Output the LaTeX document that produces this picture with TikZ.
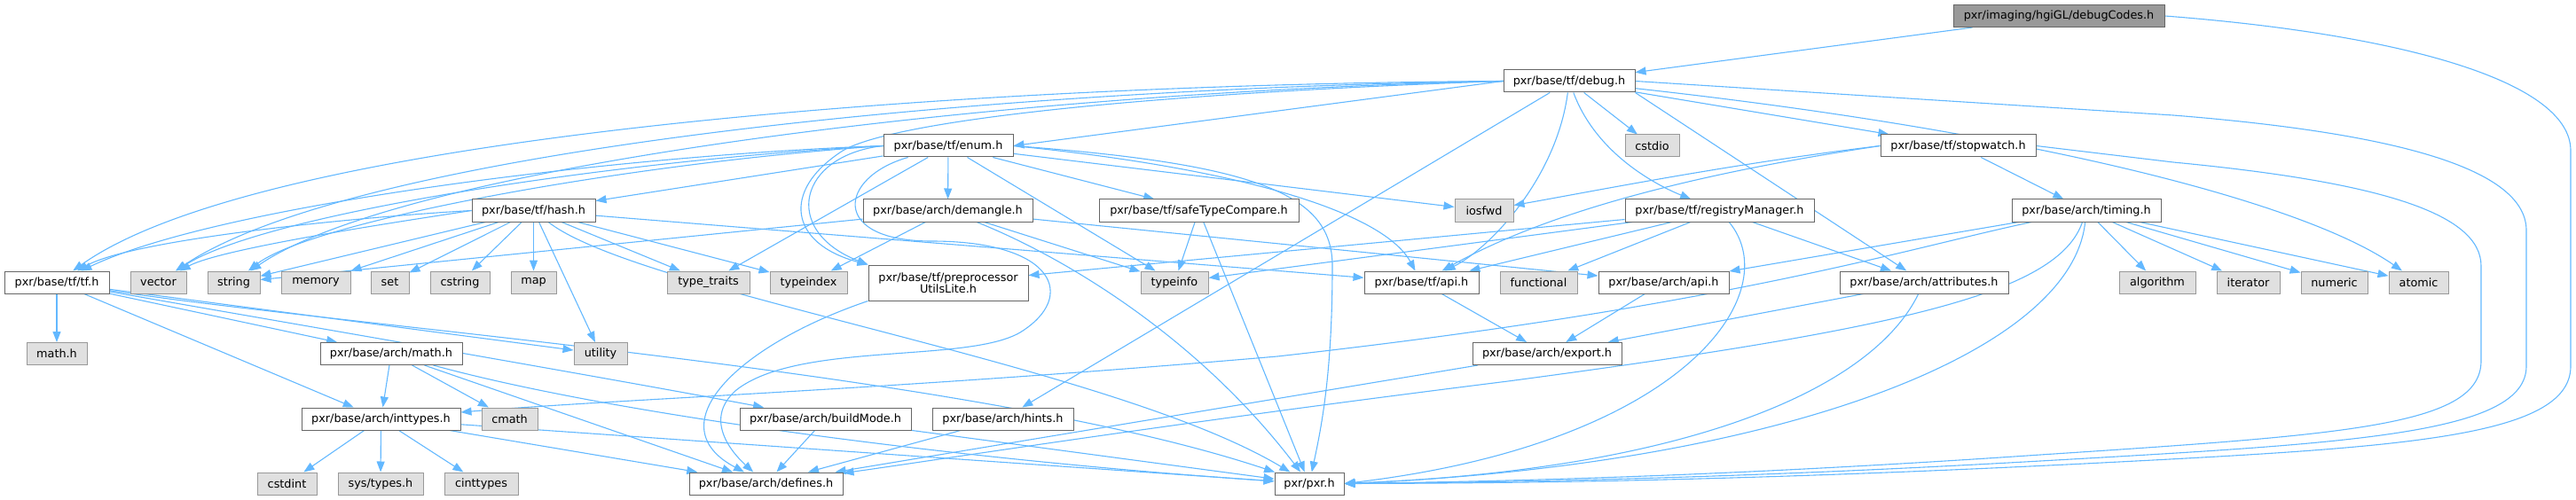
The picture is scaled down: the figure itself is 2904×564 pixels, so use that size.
\documentclass[tikz,border=0pt]{standalone}
\usepackage{fontspec}
\setmainfont{DejaVu Sans}
\usetikzlibrary{arrows.meta}
\definecolor{edgec}{HTML}{63B8FF}
\definecolor{bdark}{HTML}{666666}
\definecolor{blight}{HTML}{999999}
\definecolor{fext}{HTML}{E0E0E0}
\definecolor{froot}{HTML}{999999}
\newcommand\nodefont{\fontsize{12.8pt}{15pt}\selectfont}
\pgfdeclarelayer{bg}
\pgfsetlayers{bg,main}
\tikzset{
  nb/.style={draw=bdark, fill=white, line width=1pt, minimum height=25pt, inner sep=0pt, font=\nodefont, text=black},
  ext/.style={nb, draw=blight, fill=fext},
  rootn/.style={nb, draw=bdark, fill=froot},
  e/.style={draw=edgec, line width=1.1pt, -{Triangle[length=12pt,width=9pt]}}
}
\begin{document}
\begin{tikzpicture}[x=1pt,y=-1pt]
\useasboundingbox (0,0) rectangle (2904,564);
% nodes
\node[rootn, minimum width=238pt] (root) at (2321,18) {pxr/imaging/hgiGL/debugCodes.h};
\node[nb, minimum width=148pt] (debug) at (1769,91.5) {pxr/base/tf/debug.h};
\node[nb, minimum width=146pt] (enum) at (1069,164.5) {pxr/base/tf/enum.h};
\node[ext, minimum width=61pt] (cstdio) at (1862.5,164.5) {cstdio};
\node[nb, minimum width=175pt] (stopw) at (2207.5,164.5) {pxr/base/tf/stopwatch.h};
\node[nb, minimum width=139pt] (hash) at (601.5,237.5) {pxr/base/tf/hash.h};
\node[nb, minimum width=191pt] (demangle) at (1068.5,237.5) {pxr/base/arch/demangle.h};
\node[nb, minimum width=225pt] (safe) at (1351.5,237.5) {pxr/base/tf/safeTypeCompare.h};
\node[ext, minimum width=66pt] (iosfwd) at (1673,237.5) {iosfwd};
\node[nb, minimum width=213pt] (regm) at (1938.5,237.5) {pxr/base/tf/registryManager.h};
\node[nb, minimum width=168pt] (timing) at (2352,237.5) {pxr/base/arch/timing.h};
\node[nb, minimum width=118pt] (tf) at (64,318.5) {pxr/base/tf/tf.h};
\node[ext, minimum width=63pt] (vector) at (178.5,318.5) {vector};
\node[ext, minimum width=59pt] (string) at (263.5,318.5) {string};
\node[ext, minimum width=78pt] (memory) at (356,318.5) {memory};
\node[ext, minimum width=43pt] (set) at (439.5,318.5) {set};
\node[ext, minimum width=67pt] (cstring) at (518.5,318.5) {cstring};
\node[ext, minimum width=51pt] (map) at (601.5,318.5) {map};
\node[ext, minimum width=93pt] (typetraits) at (798.5,318.5) {type\_traits};
\node[ext, minimum width=87pt] (typeindex) at (911.5,318.5) {typeindex};
\node[nb, minimum width=180pt, minimum height=40pt, align=center] (prep) at (1069,319) {pxr/base/tf/preprocessor\\[-2pt]UtilsLite.h};
\node[ext, minimum width=76pt] (typeinfo) at (1324,318.5) {typeinfo};
\node[nb, minimum width=129pt] (tfapi) at (1602.5,318.5) {pxr/base/tf/api.h};
\node[ext, minimum width=87pt] (functional) at (1734.5,318.5) {functional};
\node[nb, minimum width=147pt] (archapi) at (1875.5,318.5) {pxr/base/arch/api.h};
\node[nb, minimum width=190pt] (attrs) at (2169,318.5) {pxr/base/arch/attributes.h};
\node[ext, minimum width=86pt] (algorithm) at (2432,318.5) {algorithm};
\node[ext, minimum width=71pt] (iterator) at (2534.5,318.5) {iterator};
\node[ext, minimum width=75pt] (numeric) at (2631.5,318.5) {numeric};
\node[ext, minimum width=67pt] (atomic) at (2726.5,318.5) {atomic};
\node[ext, minimum width=68pt] (mathh) at (64,399) {math.h};
\node[nb, minimum width=160pt] (archmath) at (441,399) {pxr/base/arch/math.h};
\node[ext, minimum width=60pt] (utility) at (677,399) {utility};
\node[nb, minimum width=168pt] (export) at (1744,399) {pxr/base/arch/export.h};
\node[nb, minimum width=179pt] (inttypes) at (429.5,472.5) {pxr/base/arch/inttypes.h};
\node[ext, minimum width=63pt] (cmath) at (574.5,472.5) {cmath};
\node[nb, minimum width=193pt] (buildmode) at (930.5,472.5) {pxr/base/arch/buildMode.h};
\node[nb, minimum width=159pt] (hints) at (1130.5,472.5) {pxr/base/arch/hints.h};
\node[ext, minimum width=67pt] (cstdint) at (323.5,545.5) {cstdint};
\node[ext, minimum width=96pt] (systypes) at (429,545.5) {sys/types.h};
\node[ext, minimum width=83pt] (cinttypes) at (542.5,545.5) {cinttypes};
\node[nb, minimum width=173pt] (defines) at (863.5,545.5) {pxr/base/arch/defines.h};
\node[nb, minimum width=78pt] (pxr) at (1476,545.5) {pxr/pxr.h};
% edges
\begin{pgfonlayer}{bg}
% debugCodes.h
\draw[e] (root) -- (debug);
\draw[e] (root.east) .. controls (2700,38) and (2898,90) .. (2898,170) -- (2898,413) .. controls (2898,495) and (2700,505) .. (2350,523) .. controls (1950,543) and (1700,545) .. (pxr.east);
% debug.h
\draw[e] (debug.east) -- (2450,130) .. controls (2700,150) and (2848,190) .. (2848,260) -- (2848,413) .. controls (2848,490) and (2650,500) .. (2300,520) .. controls (1950,540) and (1700,544) .. (pxr.east);
\draw[e] (debug.west) -- (enum.east);
\draw[e] (debug.west) .. controls (1100,95) and (300,150) .. (tf);
\draw[e] (debug.west) .. controls (1100,100) and (400,170) .. (vector);
\draw[e] (debug.west) .. controls (1100,105) and (450,190) .. (string);
\draw[e] (debug.west) .. controls (1300,105) and (1010,135) .. (950,170) .. controls (880,215) and (890,275) .. (prep.north west);
\draw[e] (debug) .. controls (1755,200) and (1680,280) .. (tfapi);
\draw[e] (debug) .. controls (1800,175) and (1870,210) .. (regm);
\draw[e] (debug) -- (stopw);
\draw[e] (debug.south east) -- (attrs);
\draw[e] (debug) -- (hints);
\draw[e] (debug) .. controls (2300,150) and (2600,230) .. (atomic);
\draw[e] (debug) -- (cstdio);
% enum.h
\draw[e] (enum) -- (hash);
\draw[e] (enum) -- (demangle);
\draw[e] (enum) -- (safe);
\draw[e] (enum.west) .. controls (700,175) and (250,230) .. (tf);
\draw[e] (enum.west) .. controls (700,180) and (300,240) .. (vector);
\draw[e] (enum.west) .. controls (700,185) and (350,250) .. (string);
\draw[e] (enum.east) .. controls (1400,190) and (1560,240) .. (tfapi);
\draw[e] (enum.west) .. controls (900,175) and (880,260) .. (prep.north west);
\draw[e] (enum) .. controls (945,200) and (935,272) .. (1050,272) .. controls (1190,272) and (1215,335) .. (1150,375) .. controls (1090,410) and (900,385) .. (830,440) .. controls (790,475) and (830,515) .. (defines);
\draw[e] (enum.east) .. controls (1420,185) and (1502,220) .. (1502,300) .. controls (1502,420) and (1490,480) .. (pxr);
\draw[e] (enum) -- (iosfwd);
\draw[e] (enum) -- (typetraits);
\draw[e] (enum) -- (typeinfo);
% hash.h
\draw[e] (hash.west) .. controls (400,245) and (150,270) .. (tf);
\draw[e] (hash) -- (tfapi);
\draw[e] (hash) .. controls (720,330) and (1250,410) .. (pxr);
\draw[e] (hash) -- (cstring);
\draw[e] (hash) -- (string);
\draw[e] (hash) -- (map);
\draw[e] (hash) -- (memory);
\draw[e] (hash) -- (set);
\draw[e] (hash) -- (typeindex);
\draw[e] (hash) -- (typetraits);
\draw[e] (hash) -- (utility);
\draw[e] (hash.west) .. controls (450,250) and (250,280) .. (vector);
% demangle.h
\draw[e] (demangle) .. controls (1200,290) and (1350,380) .. (pxr);
\draw[e] (demangle) -- (archapi);
\draw[e] (demangle) -- (string);
\draw[e] (demangle) -- (typeinfo);
\draw[e] (demangle) -- (typeindex);
% safeTypeCompare.h
\draw[e] (safe) -- (pxr);
\draw[e] (safe) -- (typeinfo);
% tf.h
\draw[e] (tf) .. controls (400,370) and (1100,420) .. (pxr);
\draw[e] (tf) .. controls (300,360) and (650,420) .. (buildmode);
\draw[e] (tf) -- (archmath);
\draw[e] (tf) -- (inttypes);
\draw[e] (tf) -- (mathh);
\draw[e] (tf) -- (utility);
% arch/math.h
\draw[e] (archmath) .. controls (700,470) and (1100,520) .. (pxr);
\draw[e] (archmath) -- (defines);
\draw[e] (archmath) -- (inttypes);
\draw[e] (archmath) -- (cmath);
% inttypes.h
\draw[e] (inttypes) -- (defines);
\draw[e] (inttypes) -- (pxr);
\draw[e] (inttypes) -- (cinttypes);
\draw[e] (inttypes) -- (cstdint);
\draw[e] (inttypes) -- (systypes);
% others
\draw[e] (buildmode) -- (defines);
\draw[e] (buildmode) -- (pxr);
\draw[e] (hints) -- (defines);
\draw[e] (prep.south west) .. controls (830,390) and (740,480) .. (defines);
\draw[e] (tfapi) -- (export);
\draw[e] (archapi) -- (export);
\draw[e] (export) -- (defines);
\draw[e] (attrs) -- (export);
\draw[e] (attrs) .. controls (2110,440) and (1900,530) .. (pxr.east);
% timing.h
\draw[e] (timing) .. controls (2335,400) and (2000,525) .. (pxr.east);
\draw[e] (timing) -- (archapi);
\draw[e] (timing) .. controls (2320,330) and (2150,370) .. (1700,430) .. controls (1300,480) and (1050,520) .. (defines);
\draw[e] (timing) .. controls (2150,280) and (1950,345) .. (1440,402) .. controls (1000,440) and (700,450) .. (inttypes);
\draw[e] (timing) -- (algorithm);
\draw[e] (timing) -- (atomic);
\draw[e] (timing) -- (iterator);
\draw[e] (timing) -- (numeric);
% stopwatch.h
\draw[e] (stopw.east) -- (2450,183) .. controls (2680,205) and (2797,240) .. (2797,300) -- (2797,407) .. controls (2797,480) and (2650,490) .. (2300,513) .. controls (1950,537) and (1700,543) .. (pxr.east);
\draw[e] (stopw.west) .. controls (1950,190) and (1760,230) .. (tfapi);
\draw[e] (stopw) -- (timing);
\draw[e] (stopw.west) .. controls (1950,185) and (1800,215) .. (iosfwd);
% registryManager.h
\draw[e] (regm) .. controls (2015,330) and (1900,500) .. (pxr.east);
\draw[e] (regm) -- (tfapi);
\draw[e] (regm) -- (attrs);
\draw[e] (regm) -- (prep);
\draw[e] (regm) -- (functional);
\draw[e] (regm) -- (typeinfo);
\end{pgfonlayer}
\end{tikzpicture}
\end{document}
